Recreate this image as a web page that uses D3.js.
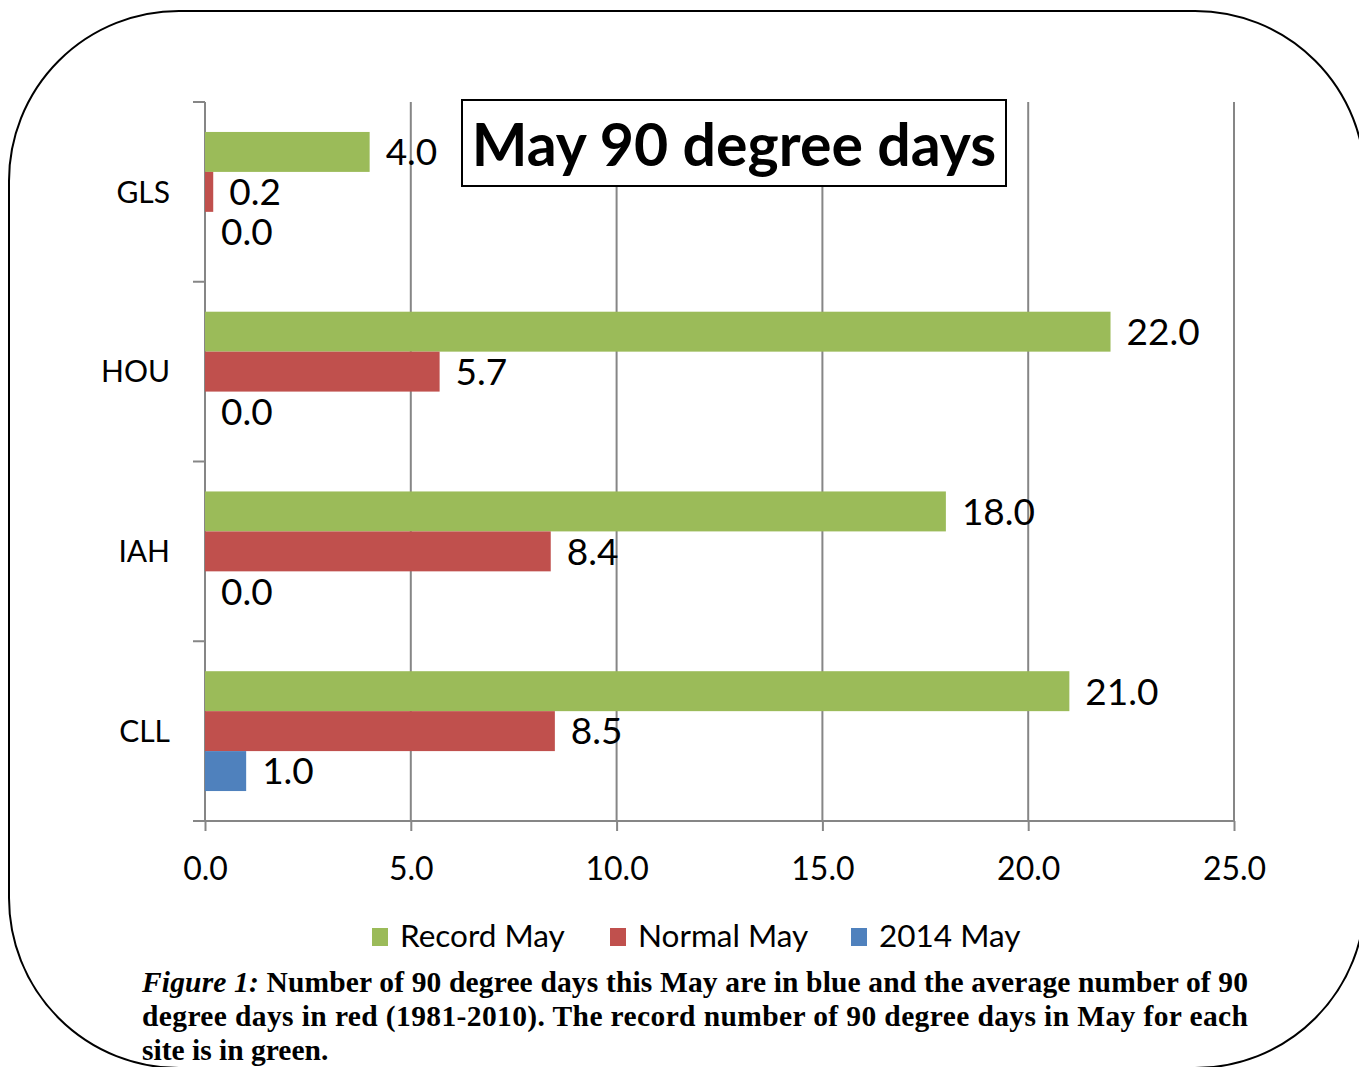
<!DOCTYPE html>
<html>
<head>
<meta charset="utf-8">
<script src="https://cdn.jsdelivr.net/npm/d3@7"></script>
<style>
  body { margin: 0; background: #fff; }
  svg { display: block; }
</style>
</head>
<body>
<svg id="chart" width="1359" height="1067"></svg>
<script>
const categories = ['GLS', 'HOU', 'IAH', 'CLL'];
const seriesNames = ['Record May', 'Normal May', '2014 May'];
const recordMay = [4.0, 22.0, 18.0, 21.0];
const normalMay = [0.2, 5.7, 8.4, 8.5];
const may2014 = [0.0, 0.0, 0.0, 1.0];
const xTicks = [0, 5, 10, 15, 20, 25];
const colors = ['#9bbb59', '#c0504d', '#4f81bd'];

const seriesValues = [recordMay, normalMay, may2014];
const rows = categories.map((c, i) => ({
  cat: c,
  vals: seriesNames.map((s, j) => ({ series: s, idx: j, value: seriesValues[j][i] }))
}));

const svg = d3.select('#chart');
const font = 'Lato, "Open Sans", sans-serif';
const axisColor = '#868686';

// rounded frame round the whole figure
svg.append('rect')
  .attr('x', 9).attr('y', 11)
  .attr('width', 1356).attr('height', 1057)
  .attr('rx', 170).attr('ry', 170)
  .attr('fill', 'none')
  .attr('stroke', '#000')
  .attr('stroke-width', 2);

const plot = { left: 205, right: 1234, top: 102, bottom: 821 };

const x = d3.scaleLinear().domain([0, 25]).range([plot.left, plot.right]);
const y = d3.scaleBand()
  .domain(categories)
  .range([plot.top, plot.bottom])
  .paddingInner(1 / 3)
  .paddingOuter(1 / 6);
const ySub = d3.scaleBand().domain(seriesNames).range([0, y.bandwidth()]);

// vertical grid
svg.append('g')
  .selectAll('line')
  .data(xTicks.slice(1))
  .join('line')
  .attr('x1', d => x(d)).attr('x2', d => x(d))
  .attr('y1', plot.top).attr('y2', plot.bottom)
  .attr('stroke', axisColor)
  .attr('stroke-width', 2);

// x axis
const xAxis = svg.append('g')
  .attr('transform', `translate(0,${plot.bottom})`)
  .call(d3.axisBottom(x).tickValues(xTicks).tickFormat(d3.format('.1f')).tickSize(10).tickSizeOuter(0));
xAxis.select('.domain').remove();
xAxis.append('line')
  .attr('x1', plot.left - 12).attr('x2', plot.right)
  .attr('stroke', axisColor).attr('stroke-width', 2);
xAxis.selectAll('.tick line').attr('stroke', axisColor).attr('stroke-width', 2);
xAxis.selectAll('.tick text')
  .attr('dy', null)
  .attr('y', 59)
  .attr('fill', '#000')
  .style('font-family', font)
  .style('font-size', '32px');

// y axis: line plus ticks at the band boundaries
const step = y.step();
const boundaries = d3.range(categories.length + 1).map(i => plot.top + i * step);
const yAxis = svg.append('g');
yAxis.append('line')
  .attr('x1', plot.left).attr('x2', plot.left)
  .attr('y1', plot.top).attr('y2', plot.bottom)
  .attr('stroke', axisColor).attr('stroke-width', 2);
yAxis.selectAll('line.tick')
  .data(boundaries)
  .join('line')
  .attr('class', 'tick')
  .attr('x1', plot.left - 12).attr('x2', plot.left)
  .attr('y1', d => d).attr('y2', d => d)
  .attr('stroke', axisColor).attr('stroke-width', 2);
yAxis.selectAll('text')
  .data(categories)
  .join('text')
  .attr('x', 170)
  .attr('y', d => y(d) + y.bandwidth() / 2)
  .attr('dy', '0.36em')
  .attr('text-anchor', 'end')
  .style('font-family', font)
  .style('font-size', '30px')
  .text(d => d);

// bars
const groups = svg.append('g')
  .selectAll('g.cat')
  .data(rows)
  .join('g')
  .attr('class', 'cat')
  .attr('transform', d => `translate(0,${y(d.cat)})`);

groups.selectAll('rect')
  .data(d => d.vals.filter(v => v.value > 0))
  .join('rect')
  .attr('x', x(0))
  .attr('y', d => ySub(d.series))
  .attr('width', d => x(d.value) - x(0))
  .attr('height', ySub.bandwidth())
  .attr('fill', d => colors[d.idx]);

groups.selectAll('text')
  .data(d => d.vals)
  .join('text')
  .attr('x', d => x(d.value) + 16)
  .attr('y', d => ySub(d.series) + ySub.bandwidth() / 2)
  .attr('dy', '0.36em')
  .style('font-family', font)
  .style('font-size', '37px')
  .text(d => d3.format('.1f')(d.value));

// title box
const title = svg.append('g');
title.append('rect')
  .attr('x', 462).attr('y', 100)
  .attr('width', 544).attr('height', 86)
  .attr('fill', '#fff')
  .attr('stroke', '#000')
  .attr('stroke-width', 2);
title.append('text')
  .attr('x', 734).attr('y', 166)
  .attr('text-anchor', 'middle')
  .style('font-family', font)
  .style('font-weight', 'bold')
  .style('font-size', '59px')
  .text('May 90 degree days');

// legend
const legendX = [372, 610, 851];
const legend = svg.append('g')
  .selectAll('g')
  .data(seriesNames)
  .join('g')
  .attr('transform', (d, i) => `translate(${legendX[i]},928)`);
legend.append('rect')
  .attr('width', 16).attr('height', 18)
  .attr('fill', (d, i) => colors[i]);
legend.append('text')
  .attr('x', 28).attr('y', 19)
  .style('font-family', font)
  .style('font-size', '31.5px')
  .text(d => d);

// caption
const capFont = '"Liberation Serif", "Times New Roman", serif';
const captionLines = [
  'Number of 90 degree days this May are in blue and the average number of 90',
  'degree days in red (1981-2010). The record number of 90 degree days in May for each',
  'site is in green.'
];
const cap = svg.append('g')
  .style('font-family', capFont)
  .style('font-weight', 'bold')
  .style('font-size', '29.5px');
captionLines.forEach((line, i) => {
  const t = cap.append('text')
    .attr('x', 142)
    .attr('y', 992 + i * 34);
  if (i < 2) t.attr('textLength', 1106).attr('lengthAdjust', 'spacing');
  if (i === 0) {
    t.append('tspan').style('font-style', 'italic').text('Figure 1:');
    t.append('tspan').text(' ' + line);
  } else {
    t.text(line);
  }
});
</script>
</body>
</html>
